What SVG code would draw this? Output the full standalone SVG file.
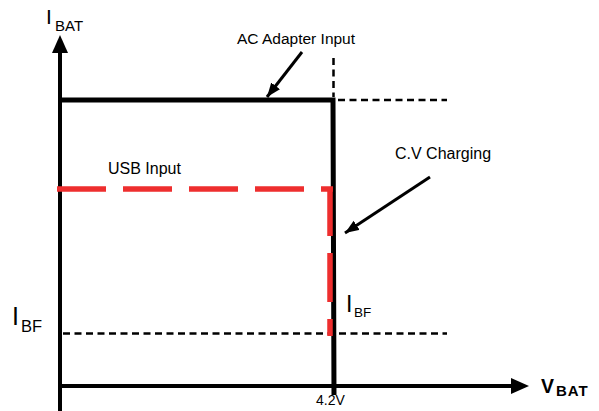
<svg xmlns="http://www.w3.org/2000/svg" width="599" height="411" viewBox="0 0 599 411">
<style>
text{font-family:"Liberation Sans",Arial,sans-serif;fill:#000}
.ax{stroke:#000;stroke-width:4;fill:none}
.thick{stroke:#000;stroke-width:5;fill:none}
.dash{stroke:#000;stroke-width:2.5;stroke-dasharray:7 4.5;fill:none}
.red{stroke:#ee2e2e;stroke-width:5.5;stroke-dasharray:49 17;fill:none}
.ptr{stroke:#000;stroke-width:3;fill:none;marker-end:url(#ah)}
</style>
<defs>
<marker id="ah" markerUnits="userSpaceOnUse" markerWidth="16" markerHeight="12" refX="14" refY="5.5" orient="auto">
<path d="M0,0 L14,5.5 L0,11 z" fill="#000"/>
</marker>
</defs>
<rect width="599" height="411" fill="#fff"/>
<g id="axes">
<line class="ax" x1="60" y1="50" x2="60" y2="411"/>
<polygon points="60,35 52,53 68,53" fill="#000"/>
<line class="ax" x1="58" y1="386" x2="514" y2="386"/>
<polygon points="529,386 511,378 511,394" fill="#000"/>
</g>
<g id="connectors">
<line class="dash" x1="333.5" y1="58" x2="333.5" y2="97"/>
<line class="dash" x1="338" y1="100" x2="447" y2="100"/>
<line class="dash" x1="63" y1="333.5" x2="447" y2="333.5"/>
<polyline class="thick" points="60,100 333,100 334,395"/>
<line class="red" x1="57" y1="189" x2="333" y2="189"/>
<line class="red" x1="330" y1="187" x2="330" y2="336"/>
<line class="ptr" x1="302" y1="52" x2="267" y2="97"/>
<line class="ptr" x1="430" y1="177" x2="345" y2="233"/>
</g>
<g id="labels">
<text x="46" y="24" font-size="21">I</text>
<text x="55" y="31" font-size="15">BAT</text>
<text x="237" y="44" font-size="15.5">AC Adapter Input</text>
<text x="395" y="159" font-size="16">C.V Charging</text>
<text x="108" y="174" font-size="16">USB Input</text>
<text x="346" y="312" font-size="23">I</text>
<text x="354" y="317" font-size="13.5">BF</text>
<text x="12" y="325" font-size="25">I</text>
<text x="21" y="332" font-size="16.5">BF</text>
<text x="316" y="405" font-size="14">4.2V</text>
<text x="541" y="393" font-size="19.5" font-weight="bold">V</text>
<text x="556" y="396" font-size="15" font-weight="bold" letter-spacing="1">BAT</text>
</g>
</svg>
